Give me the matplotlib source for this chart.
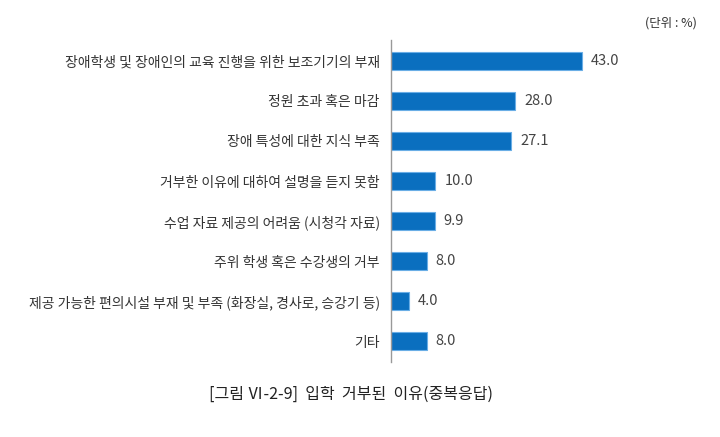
import matplotlib
matplotlib.use('Agg')
import matplotlib.pyplot as plt

plt.rcParams['font.family'] = ['Noto Sans CJK KR', 'DejaVu Sans']

categories = ['장애학생 및 장애인의 교육 진행을 위한 보조기기의 부재',
              '정원 초과 혹은 마감',
              '장애 특성에 대한 지식 부족',
              '거부한 이유에 대하여 설명을 듣지 못함',
              '수업 자료 제공의 어려움 (시청각 자료)',
              '주위 학생 혹은 수강생의 거부',
              '제공 가능한 편의시설 부재 및 부족 (화장실, 경사로, 승강기 등)',
              '기타']
values = [43.0, 28.0, 27.1, 10.0, 9.9, 8.0, 4.0, 8.0]
value_labels = ['43.0', '28.0', '27.1', '10.0', '9.9', '8.0', '4.0', '8.0']

fig = plt.figure(figsize=(7.2, 4.37), dpi=100)
ax = fig.add_axes([0.543, 0.1716, 0.432, 0.7369])

ypos = list(range(len(categories)))
ax.barh(ypos, values, height=0.45, color='#0a6fbf', edgecolor='#6aaee6', linewidth=0.8)

for y, v, lab in zip(ypos, values, value_labels):
    ax.text(v + 2.0, y, lab, va='center', ha='left', fontsize=10.5, color='#444444')

ax.set_yticks(ypos)
ax.set_yticklabels(categories, fontsize=10, color='#333333')
ax.tick_params(axis='y', length=0, pad=8)
ax.set_ylim(7.525, -0.525)
ax.set_xlim(0, 70)
ax.set_xticks([])

for s in ['top', 'right', 'bottom']:
    ax.spines[s].set_visible(False)
ax.spines['left'].set_color('#999999')
ax.spines['left'].set_linewidth(1.0)

fig.text(0.968, 0.948, '(단위 : %)', ha='right', va='center', fontsize=9, color='#333333')
fig.text(0.488, 0.098, '[그림 Ⅵ-2-9]  입학  거부된  이유(중복응답)', ha='center', va='center',
         fontsize=11.5, color='#222222')

fig.savefig('out.png', dpi=100)
